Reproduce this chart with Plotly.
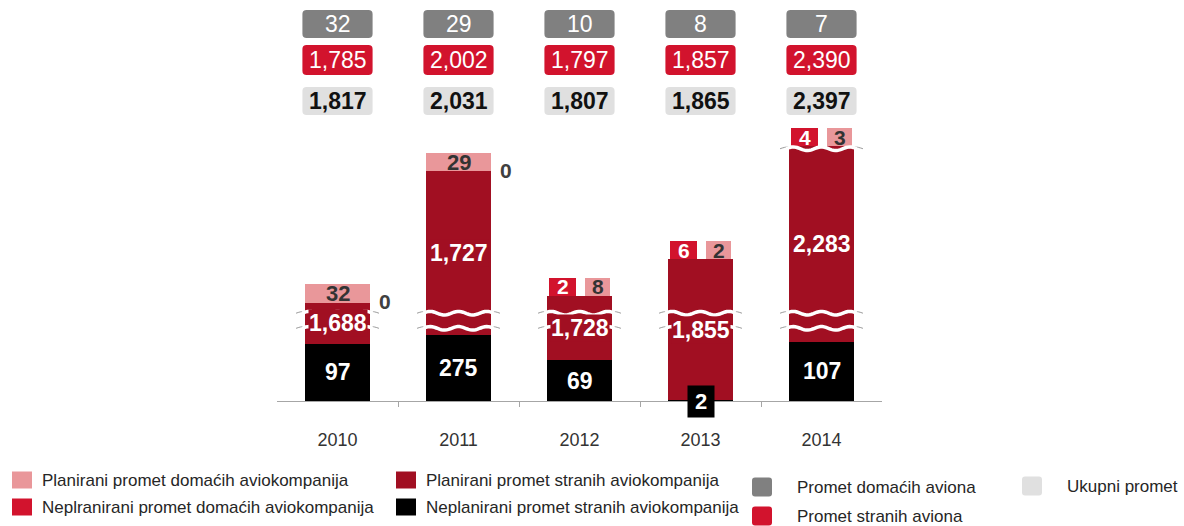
import numpy as np
import plotly.graph_objects as go

# ---------------- data ----------------
years = ["2010", "2011", "2012", "2013", "2014"]
neplan_stranih = [97, 275, 69, 2, 107]          # Neplanirani promet stranih aviokompanija
plan_stranih = [1688, 1727, 1728, 1855, 2283]   # Planirani promet stranih aviokompanija
neplan_domacih = [0, 0, 2, 6, 4]                # Neplranirani promet domaćih aviokompanija
plan_domacih = [32, 29, 8, 2, 3]                # Planirani promet domaćih aviokompanija
promet_domacih = [32, 29, 10, 8, 7]             # Promet domaćih aviona
promet_stranih = [1785, 2002, 1797, 1857, 2390] # Promet stranih aviona
ukupni = [1817, 2031, 1807, 1865, 2397]         # Ukupni promet

# broken (compressed) value axis: value -> display units
BREAK_VALUES = [0, 100, 300, 1780, 2035, 2400]
BREAK_DISPLAY = [0, 59, 67, 95, 250, 255]
BREAK_MARKS = [600, 1400, 2200]


def T(v):
    return float(np.interp(v, BREAK_VALUES, BREAK_DISPLAY))


C_PINK = "#e9979a"
C_DARKRED = "#a10f22"
C_RED = "#d2132d"
C_BLACK = "#000000"
C_GRAY = "#808080"
C_LIGHT = "#e0e0e0"
FONT = "Arial, Liberation Sans, sans-serif"

BAR_W = 0.545
MIN_BOX = 18
n = len(years)
xs = np.arange(n)

cum_black = [T(v) for v in neplan_stranih]
cum_foreign = [T(a + b) for a, b in zip(neplan_stranih, plan_stranih)]

fig = go.Figure()

# black segment
fig.add_trace(go.Bar(x=xs, y=cum_black, base=[0] * n, width=BAR_W,
                     marker=dict(color=C_BLACK, line_width=0), hoverinfo="skip",
                     name="Neplanirani promet stranih aviokompanija", showlegend=False))
# dark red segment
fig.add_trace(go.Bar(x=xs, y=[f - b for f, b in zip(cum_foreign, cum_black)], base=cum_black,
                     width=BAR_W, marker=dict(color=C_DARKRED, line_width=0), hoverinfo="skip",
                     name="Planirani promet stranih aviokompanija", showlegend=False))

# domestic segments
full_idx = [i for i in range(n) if neplan_domacih[i] == 0]
split_idx = [i for i in range(n) if neplan_domacih[i] > 0]

pink_full_h = [T(promet_stranih[i] + plan_domacih[i]) - cum_foreign[i] for i in full_idx]
fig.add_trace(go.Bar(x=[xs[i] for i in full_idx], y=pink_full_h,
                     base=[cum_foreign[i] for i in full_idx], width=BAR_W,
                     marker=dict(color=C_PINK, line_width=0), hoverinfo="skip", showlegend=False))

HALF_W = 0.23
OFF = 0.14
red_h = [max(T(promet_stranih[i] + neplan_domacih[i]) - cum_foreign[i], MIN_BOX) for i in split_idx]
pink_h = [max(T(promet_stranih[i] + plan_domacih[i]) - cum_foreign[i], MIN_BOX) for i in split_idx]
fig.add_trace(go.Bar(x=[xs[i] - OFF for i in split_idx], y=red_h,
                     base=[cum_foreign[i] for i in split_idx], width=HALF_W,
                     marker=dict(color=C_RED, line_width=0), hoverinfo="skip", showlegend=False))
fig.add_trace(go.Bar(x=[xs[i] + OFF + 0.01 for i in split_idx], y=pink_h,
                     base=[cum_foreign[i] for i in split_idx], width=HALF_W - 0.02,
                     marker=dict(color=C_PINK, line_width=0), hoverinfo="skip", showlegend=False))

shapes = []
annots = []


def wavy_path(xc, yc, hw, amp=1.8, periods=2.5, npts=40):
    t = np.linspace(0, 1, npts)
    px_ = xc - hw + 2 * hw * t
    py_ = yc + amp * np.sin(2 * np.pi * periods * t)
    return "M " + " L ".join(f"{a:.4f},{b:.3f}" for a, b in zip(px_, py_))


# break marks
for i in range(n):
    for bv in BREAK_MARKS:
        if neplan_stranih[i] < bv < promet_stranih[i]:
            yc = T(bv)
            shapes.append(dict(type="path", xref="x", yref="y",
                               path=wavy_path(xs[i], yc, BAR_W / 2 + 0.07),
                               line=dict(color="#9a9a9a", width=1), layer="above"))
            shapes.append(dict(type="path", xref="x", yref="y",
                               path=wavy_path(xs[i], yc, BAR_W / 2 + 0.02),
                               line=dict(color="white", width=3.5), layer="above"))


def rrect(x0, x1, y0, y1, rx=0.035, ry=4):
    return (f"M {x0+rx},{y0} L {x1-rx},{y0} Q {x1},{y0} {x1},{y0+ry} "
            f"L {x1},{y1-ry} Q {x1},{y1} {x1-rx},{y1} L {x0+rx},{y1} "
            f"Q {x0},{y1} {x0},{y1-ry} L {x0},{y0+ry} Q {x0},{y0} {x0+rx},{y0} Z")


def fmt(v):
    return f"{v:,}"


# labels inside bars
for i in range(n):
    if neplan_stranih[i] >= 10:
        annots.append(dict(x=xs[i], y=cum_black[i] / 2, text=fmt(neplan_stranih[i]),
                           font=dict(color="white", size=23, family=FONT, weight="bold")))
    else:
        annots.append(dict(x=xs[i], y=0, text=fmt(neplan_stranih[i]), bgcolor=C_BLACK,
                           borderpad=3, width=20,
                           font=dict(color="white", size=22, family=FONT, weight="bold")))
    annots.append(dict(x=xs[i], y=(cum_black[i] + cum_foreign[i]) / 2, text=fmt(plan_stranih[i]),
                       bgcolor=C_DARKRED, borderpad=0,
                       font=dict(color="white", size=23, family=FONT, weight="bold")))

for k, i in enumerate(full_idx):
    annots.append(dict(x=xs[i], y=cum_foreign[i] + pink_full_h[k] / 2, text=fmt(plan_domacih[i]),
                       font=dict(color="#333333", size=22, family=FONT, weight="bold")))
    annots.append(dict(x=xs[i] + 0.39, y=cum_foreign[i] + 1, text=fmt(neplan_domacih[i]),
                       font=dict(color="#404040", size=21, family=FONT, weight="bold")))

for k, i in enumerate(split_idx):
    annots.append(dict(x=xs[i] - OFF, y=cum_foreign[i] + red_h[k] / 2, text=fmt(neplan_domacih[i]),
                       font=dict(color="white", size=21, family=FONT, weight="bold")))
    annots.append(dict(x=xs[i] + OFF + 0.01, y=cum_foreign[i] + pink_h[k] / 2, text=fmt(plan_domacih[i]),
                       font=dict(color="#333333", size=21, family=FONT, weight="bold")))

# top summary boxes
BOX_HW = 0.29
rows = [
    (promet_domacih, C_GRAY, "white", None, 377, 14),
    (promet_stranih, C_RED, "white", None, 341, 15),
    (ukupni, C_LIGHT, "#111111", "bold", 300, 14),
]
for vals, bg, fc, wt, yc, hh in rows:
    for i in range(n):
        shapes.append(dict(type="path", xref="x", yref="y",
                           path=rrect(xs[i] - BOX_HW, xs[i] + BOX_HW, yc - hh, yc + hh),
                           fillcolor=bg, line=dict(width=0), layer="above"))
        f = dict(color=fc, size=23, family=FONT)
        if wt:
            f["weight"] = wt
        annots.append(dict(x=xs[i], y=yc, text=fmt(vals[i]), font=f))

for a in annots:
    a.setdefault("xref", "x")
    a.setdefault("yref", "y")
    a["showarrow"] = False
    a.setdefault("xanchor", "center")
    a.setdefault("yanchor", "middle")

# ---------------- legend (drawn manually) ----------------
L, R, PLOT_H = 277, 302, 401
PW = 1184 - L - R


def px(xp):
    return (xp - L) / PW


def py(yp):
    return (PLOT_H - yp) / PLOT_H


legend_items = [
    ("Planirani promet domaćih aviokompanija", C_PINK, 12, 480, False),
    ("Neplranirani promet domaćih aviokompanija", C_RED, 12, 507, False),
    ("Planirani promet stranih aviokompanija", C_DARKRED, 396, 480, False),
    ("Neplanirani promet stranih aviokompanija", C_BLACK, 396, 507, False),
    ("Promet domaćih aviona", C_GRAY, 752, 487, True),
    ("Promet stranih aviona", C_RED, 752, 516, True),
    ("Ukupni promet", C_LIGHT, 1022, 486, True),
]
for text, col, x0, yc, rounded in legend_items:
    if rounded:
        w, h = 20, 19
        tx = x0 + 43
    else:
        w, h = 20, 17
        tx = x0 + 28
    if rounded:
        x0p, x1p = px(x0), px(x0 + w)
        y0p, y1p = py(yc + h / 2), py(yc - h / 2)
        shapes.append(dict(type="path", xref="paper", yref="paper",
                           path=rrect(x0p, x1p, y0p, y1p, rx=3 / PW, ry=3 / PLOT_H),
                           fillcolor=col, line=dict(width=0)))
    else:
        shapes.append(dict(type="rect", xref="paper", yref="paper",
                           x0=px(x0), x1=px(x0 + w), y0=py(yc + h / 2), y1=py(yc - h / 2),
                           fillcolor=col, line=dict(width=0)))
    annots.append(dict(xref="paper", yref="paper", x=px(tx), y=py(yc), text=text,
                       showarrow=False, xanchor="left", yanchor="middle",
                       font=dict(color="#262626", size=17, family=FONT)))

fig.update_layout(
    width=1184, height=526,
    margin=dict(l=L, r=R, t=0, b=526 - PLOT_H, pad=0),
    paper_bgcolor="white", plot_bgcolor="white",
    barmode="overlay", bargap=0,
    showlegend=False,
    xaxis=dict(range=[-0.5, n - 0.5], tickmode="array", tickvals=list(xs), ticktext=years,
               showgrid=False, zeroline=False, showline=True, linecolor="#a6a6a6", linewidth=1,
               ticks="", ticklabelstandoff=22,
               tickfont=dict(size=18, color="#333333", family=FONT),
               minor=dict(tickmode="array", tickvals=[k + 0.5 for k in range(n - 1)],
                          ticks="outside", ticklen=5, tickcolor="#a6a6a6", showgrid=False),
               fixedrange=True),
    yaxis=dict(range=[0, PLOT_H], visible=False, fixedrange=True),
    shapes=shapes,
    annotations=annots,
)

fig.write_html("out.html", config={"displayModeBar": False},
               post_script="document.body.style.margin='0';document.body.style.overflow='hidden';")
